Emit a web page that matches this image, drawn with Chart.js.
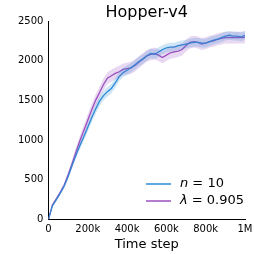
<!DOCTYPE html>
<html>
<head>
<meta charset="utf-8">
<script src="https://cdn.jsdelivr.net/npm/chart.js@4"></script>
<style>
  html, body { margin: 0; padding: 0; background: #fff; }
  #wrap { width: 254px; height: 254px; }
</style>
</head>
<body>
<div id="wrap"><canvas id="myChart" width="254" height="254"></canvas></div>
<script>
// time steps (thousands)
const steps = [0, 20, 40, 60, 80, 100, 120, 140, 160, 180, 200, 220, 240, 260, 280, 300, 320, 340, 360, 380,
  400, 420, 440, 460, 480, 500, 520, 540, 560, 580, 600, 620, 640, 660, 680, 700, 720, 740, 760, 780,
  800, 820, 840, 860, 880, 900, 920, 940, 960, 980, 1000];

const nStepMean = [0, 170, 250, 330, 420, 540, 680, 810, 930, 1040, 1160, 1280, 1390, 1490, 1560, 1610, 1650, 1720, 1800, 1850,
  1880, 1910, 1950, 1990, 2020, 2060, 2090, 2080, 2110, 2140, 2160, 2170, 2170, 2190, 2200, 2210, 2220, 2230, 2230, 2220,
  2220, 2240, 2260, 2270, 2290, 2310, 2320, 2310, 2310, 2300, 2320];
const nStepErr = [0, 15, 20, 25, 30, 35, 40, 45, 50, 50, 55, 55, 60, 60, 60, 60, 60, 60, 60, 60,
  60, 60, 60, 60, 60, 60, 60, 60, 60, 55, 55, 55, 55, 55, 55, 55, 55, 55, 55, 55,
  55, 55, 55, 55, 55, 55, 55, 55, 55, 55, 55];

const lambdaMean = [0, 180, 260, 340, 430, 560, 700, 850, 990, 1120, 1250, 1380, 1500, 1600, 1700, 1780, 1810, 1840, 1860, 1890,
  1900, 1910, 1940, 1980, 2020, 2060, 2080, 2090, 2070, 2040, 2070, 2100, 2110, 2120, 2140, 2190, 2230, 2240, 2230, 2210,
  2220, 2240, 2250, 2270, 2280, 2290, 2290, 2290, 2290, 2290, 2295];
const lambdaErr = [0, 15, 20, 25, 30, 40, 50, 60, 65, 70, 75, 75, 75, 75, 75, 75, 75, 75, 75, 75,
  75, 75, 75, 75, 75, 75, 75, 75, 75, 75, 75, 75, 75, 75, 75, 75, 75, 75, 75, 75,
  75, 75, 75, 75, 75, 75, 75, 75, 75, 75, 75];

const xTicks = [0, 200, 400, 600, 800, 1000];
const xTickLabels = ['0', '200k', '400k', '600k', '800k', '1M'];
const yTicks = [0, 500, 1000, 1500, 2000, 2500];
const titleText = 'Hopper-v4';

const blue = '#2b8cd6';
const purple = '#9d4fbf';

function pts(vals) {
  return vals.map((v, i) => ({ x: steps[i], y: v }));
}

const legendItems = [
  { color: blue, parts: [['n', true], [' = 10', false]] },
  { color: purple, parts: [['\u03bb', true], [' = 0.905', false]] }
];

// title centred over the plot area, legend inside lower right
const extras = {
  id: 'extras',
  afterDraw(chart) {
    const ctx = chart.ctx;
    const area = chart.chartArea;
    ctx.save();
    ctx.fillStyle = '#000';
    ctx.textAlign = 'center';
    ctx.textBaseline = 'alphabetic';
    ctx.font = '16px "DejaVu Sans"';
    ctx.fillText(titleText, (area.left + area.right) / 2, 17);

    ctx.textAlign = 'left';
    legendItems.forEach((item, i) => {
      const y = 184 + i * 17;
      ctx.strokeStyle = item.color;
      ctx.lineWidth = 1.5;
      ctx.beginPath();
      ctx.moveTo(146, y);
      ctx.lineTo(171, y);
      ctx.stroke();
      let x = 180;
      ctx.fillStyle = '#000';
      ctx.textBaseline = 'middle';
      item.parts.forEach(p => {
        ctx.font = (p[1] ? 'italic ' : '') + '13px "DejaVu Sans"';
        ctx.fillText(p[0], x, y);
        x += ctx.measureText(p[0]).width;
      });
    });
    ctx.restore();
  }
};

const ctx = document.getElementById('myChart').getContext('2d');
new Chart(ctx, {
  type: 'line',
  data: {
    datasets: [
      { label: 'n_hi', data: pts(nStepMean.map((v, i) => v + nStepErr[i])), borderWidth: 0, pointRadius: 0, fill: false, backgroundColor: 'rgba(43,140,214,0.22)' },
      { label: 'n_lo', data: pts(nStepMean.map((v, i) => v - nStepErr[i])), borderWidth: 0, pointRadius: 0, fill: '-1', backgroundColor: 'rgba(43,140,214,0.22)' },
      { label: 'l_hi', data: pts(lambdaMean.map((v, i) => v + lambdaErr[i])), borderWidth: 0, pointRadius: 0, fill: false, backgroundColor: 'rgba(157,79,191,0.22)' },
      { label: 'l_lo', data: pts(lambdaMean.map((v, i) => v - lambdaErr[i])), borderWidth: 0, pointRadius: 0, fill: '-1', backgroundColor: 'rgba(157,79,191,0.22)' },
      { label: 'n = 10', data: pts(nStepMean), borderColor: blue, borderWidth: 1.3, pointRadius: 0, fill: false, tension: 0 },
      { label: '\u03bb = 0.905', data: pts(lambdaMean), borderColor: purple, borderWidth: 1.3, pointRadius: 0, fill: false, tension: 0 }
    ]
  },
  options: {
    responsive: false,
    animation: false,
    layout: { padding: { top: 21, right: 9, left: 16, bottom: 0 } },
    plugins: {
      legend: { display: false },
      tooltip: { enabled: false },
      title: { display: false }
    },
    scales: {
      x: {
        type: 'linear',
        min: 0,
        max: 1000,
        afterBuildTicks: axis => { axis.ticks = xTicks.map(v => ({ value: v })); },
        ticks: {
          autoSkip: false,
          maxRotation: 0,
          color: '#000',
          font: { family: 'DejaVu Sans', size: 10 },
          padding: 1,
          callback: (v) => xTickLabels[xTicks.indexOf(v)]
        },
        grid: { display: false, drawTicks: true, tickLength: 3, tickColor: '#000' },
        border: { color: '#000', width: 1 },
        title: {
          display: true,
          text: 'Time step',
          color: '#000',
          font: { family: 'DejaVu Sans', size: 13 },
          padding: { top: 0, bottom: 2 }
        }
      },
      y: {
        min: 0,
        max: 2500,
        afterBuildTicks: axis => { axis.ticks = yTicks.map(v => ({ value: v })); },
        ticks: {
          color: '#000',
          font: { family: 'DejaVu Sans', size: 10 },
          padding: 2,
          callback: (v) => String(v)
        },
        grid: { display: false, drawTicks: true, tickLength: 3, tickColor: '#000' },
        border: { color: '#000', width: 1 }
      }
    }
  },
  plugins: [extras]
});
</script>
</body>
</html>
